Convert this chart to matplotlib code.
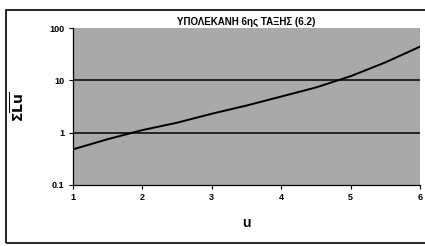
import numpy as np
import matplotlib.pyplot as plt
from matplotlib.patches import Rectangle

# values
u = [1.0, 1.5, 2.0, 2.5, 3.0, 3.5, 4.0, 4.5, 5.0, 5.5, 6.0]
sum_lu = [0.48, 0.75, 1.12, 1.55, 2.3, 3.3, 4.9, 7.3, 12.0, 22.0, 44.0]
xticks = [1, 2, 3, 4, 5, 6]
yticks = [0.1, 1, 10, 100]
ytick_labels = ['0.1', '1', '10', '100']

plt.rcParams['font.family'] = ['Liberation Sans', 'DejaVu Sans']

fig = plt.figure(figsize=(4.25, 2.46), dpi=100)
fig.patches.append(Rectangle((6/425, 3/246), 1.0, 1 - 13/246, transform=fig.transFigure,
                             fill=False, edgecolor='black', linewidth=1.2))

ax = fig.add_axes([73/425, 1 - 185/246, 347/425, 157/246])
ax.set_facecolor('#a9a9a9')
ax.set_yscale('log')
ax.set_xlim(1, 6)
ax.set_ylim(0.1, 100)

for g in [1, 10]:
    ax.axhline(g, color='black', linewidth=1.1, zorder=1)
ax.plot(u, sum_lu, color='black', linewidth=1.4, zorder=2)

ax.set_xticks(xticks)
ax.set_xticklabels([str(t) for t in xticks], fontsize=6.5, fontweight='bold')
ax.set_yticks(yticks)
ax.set_yticklabels(ytick_labels, fontsize=6.5, fontweight='bold')
ax.minorticks_off()
ax.tick_params(axis='both', direction='out', length=3, width=0.8, pad=3)

for side in ['top', 'right']:
    ax.spines[side].set_visible(False)
ax.spines['left'].set_linewidth(0.9)
ax.spines['bottom'].set_linewidth(0.9)

ax.set_xlabel('u', fontsize=10, fontweight='bold', labelpad=10)
ax.set_ylabel(r'$\mathbf{\Sigma}\overline{\mathbf{Lu}}$', fontsize=10, labelpad=16)
ax.set_title('ΥΠΟΛΕΚΑΝΗ 6ης ΤΑΞΗΣ (6.2)', fontsize=7, fontweight='bold', pad=2)

fig.savefig('out.png', dpi=100)
